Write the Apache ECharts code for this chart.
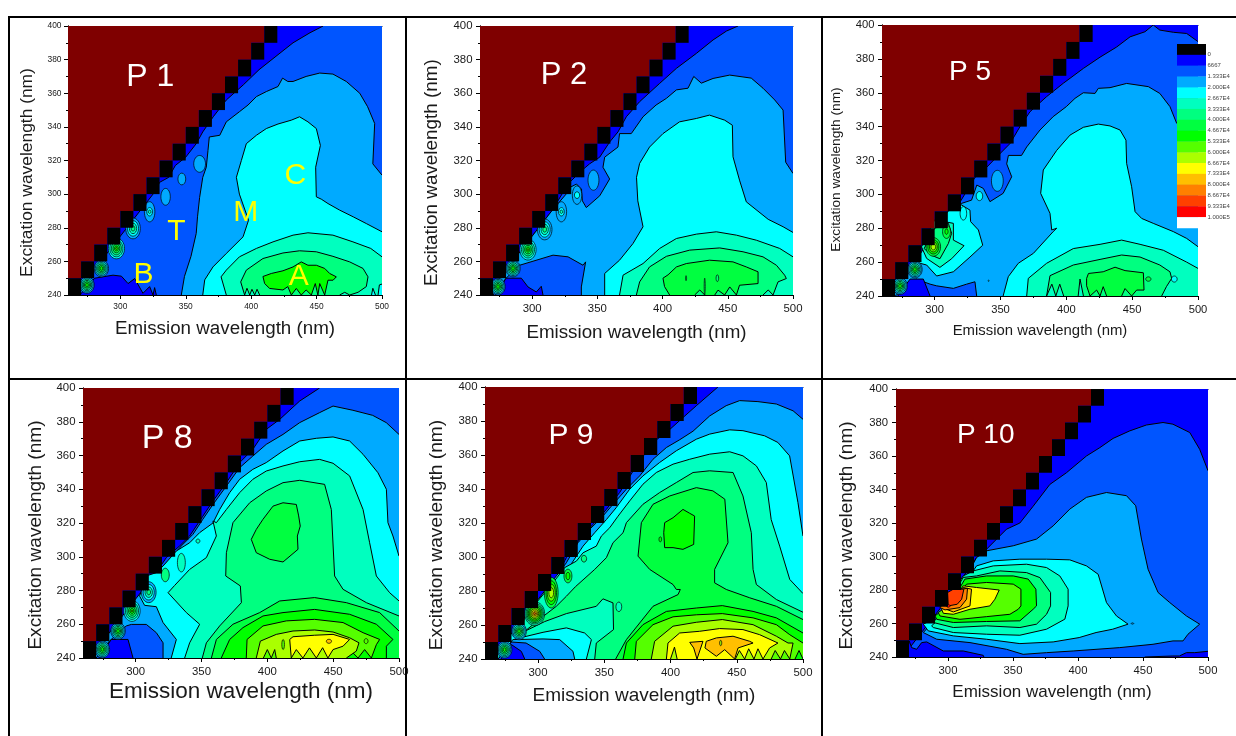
<!DOCTYPE html>
<html><head><meta charset="utf-8">
<script src="https://cdn.jsdelivr.net/npm/echarts@6/dist/echarts.min.js"></script>
<style>html,body{margin:0;padding:0;background:#fff}#c{width:1236px;height:736px}</style></head>
<body><div id="c"></div>
<script>
// colour scale (level index -> colour) and its legend labels
const LEVEL_COLORS=['#000000','#0000ff','#0055ff','#00aaff','#00ffff','#00ffbf','#00ff80','#00ff40','#00ff00','#55ff00','#aaff00','#ffff00','#ffbf00','#ff8000','#ff4000','#ff0000','#ffffff'];
const LEVEL_LABELS=['0','6667','1.333E4','2.000E4','2.667E4','3.333E4','4.000E4','4.667E4','5.333E4','6.000E4','6.667E4','7.333E4','8.000E4','8.667E4','9.333E4','1.000E5'];
const SCATTER_EX=[240,250,260,270,280,290,300,310,320,330,340,350,360,370,380,390];
const X_MAJOR=[300,350,400,450,500], X_MINOR=[275,325,375,425,475];
const Y_MAJOR=[240,260,280,300,320,340,360,380,400], Y_MINOR=[250,270,290,310,330,350,370,390];
// Contour regions [level,[[emission,excitation],...]] painted in order
const R6=[[3,5.5,5],[4,4.6,4.2],[5,3.7,3.5],[6,2.8,2.7],[7,1.9,1.9],[8,1,1.1]];
const R5=[[4,6.2,6.2],[5,5,5],[6,3.8,3.8],[7,2.6,2.6],[8,1.5,1.5],[9,.6,.6]];
const R4=[[3,5.6,6.2],[4,4.2,4.6],[5,2.8,3.1],[6,1.4,1.6]];
const R9=[[5,7.5,7],[6,6.6,6.1],[7,5.7,5.3],[8,4.8,4.5],[9,3.9,3.7],[10,3,2.9],[11,2.2,2.1],[12,1.4,1.3],[13,.7,.6]];

const P1_BANDS=[
[2,[[455,400],[445,396],[432,390],[419,382],[406,374],[394,365],[381,356],[371,346],[363,337],[358,330],[350,322],[342,317],[337,310],[330,307],[327,302],[315,290],[290,265],[270,245],[265,240],[500,240],[500,400]]],
[3,[[500,311.3],[493,318],[494.4,342],[489,352],[483,360],[472.7,367],[462.5,371.4],[452.4,372],[442,370],[432,367],[428,367],[424,369],[420.5,364],[411.6,361],[404,358],[397.6,353],[391,349],[381,343],[376,335],[368,334],[367,326],[365.7,316],[363,310],[360.6,298],[359,286.5],[358,276.6],[354,263],[349,251],[346.6,240],[500,240]]],
[4,[[500,277.6],[488,282.5],[478,286.5],[467.6,290.5],[458.7,294.4],[453.6,297],[449.8,298.4],[449.3,316],[452.9,329],[449.8,339],[443.4,343],[437,346],[430.7,344],[420.5,341.7],[411.6,339],[404,335],[396.3,330],[392.5,320],[388.7,310],[391,300],[398,284.5],[393.8,274.6],[381,264.7],[370.8,256.7],[364.5,249],[363,240],[500,240]]],
[5,[[500,262.7],[491.4,267.7],[477.8,271.6],[462.5,275.6],[443.4,277],[432,275.6],[416.7,271.6],[404,267.7],[391,262.7],[381,254.8],[377,250.8],[381,240],[500,240]]],
[4,[[492,240],[493,244],[495,240]]],[4,[[497,240],[498,246],[500,246.5],[500,240]]],
[6,[[395,240],[392,247.8],[396.3,254.8],[409,261.7],[424.3,265],[437,266.3],[449.8,265.7],[462.5,263],[475.3,259.7],[485.5,255.8],[489.3,250.8],[488,245],[481.7,241.6],[475.3,240],[471.5,241.6],[467.6,240],[406.5,240],[404.5,243.4],[402.7,240],[400.6,243.4],[398.9,240],[396.8,244]]],
[8,[[409,251],[415.4,252.8],[424.3,254.4],[432,256.7],[438.3,259.7],[443.4,257.7],[449.8,257.7],[456.2,255.8],[460,252.8],[465.1,250.8],[462.6,248.8],[458.7,248.8],[456.2,240],[452.4,246.8],[451,240],[449,246.8],[446,240],[442,243],[438.3,240],[434.5,243.9],[430.7,240],[428,245],[424.3,243],[414.1,243.9],[410.3,246.8]]],
[1,[[269,240],[280.4,250],[294.4,251.8],[300.8,251.2],[305.9,246.8],[311,249.8],[317.3,241],[322.4,245],[325,240],[326.2,244.4],[327.5,240]]]];
const P1_BUBBLES=[[274.5,246,R6],[285.5,255.8,R6],[297,267.7,R5],[309.7,279.6,R4],[322.4,289.5,[[3,4,6],[4,2.2,2.5],[5,1,1]]],[334.6,298.4,[[3,3.6,5]]],[347,309,[[3,3,3.5]]],[360.6,318,[[3,4.5,5]]]];
const P1_TEXT=[['P 1',322.9,370.6,32,'#ffffff'],['C',433.8,311.9,30,'#ffff00'],['M',395.8,290,30,'#ffff00'],['T',342.8,278.6,30,'#ffff00'],['B',317.8,252.8,30,'#ffff00'],['A',436.3,251.8,30,'#ffff00']];

const P2_BANDS=[
[2,[[457.9,400],[449,397],[438.7,391.7],[425.9,383.7],[410.6,374.8],[397.8,365.9],[382.4,355],[372.2,346],[365.8,337],[359.4,331],[351.8,322],[344,318],[336.4,313],[328.8,307],[326,304],[315,290],[290,265],[270,245],[265,240],[500,240],[500,400]]],
[3,[[500,312.3],[494.4,319],[492.4,350],[486,356],[477,363],[468,369],[451.5,370.8],[438.7,368.8],[429.7,366],[423.9,370],[419.5,363],[410.6,362],[403,357],[395,353],[385,346],[376,336],[367,336],[365.8,328],[355.6,322],[354.3,316],[359.4,309],[351.8,299],[341.5,292],[338.5,296],[337.8,303],[334,306],[329,304],[326,300],[315,290],[290,265],[270,245],[265,240],[500,240]]],
[2,[[280,250],[290.4,257.7],[304.5,261],[316,263.7],[327.5,262.7],[339,257.7],[341,259.7],[337.7,244.8],[337.7,240],[270,240]]],
[1,[[272,240],[280,250],[291.7,250],[296.8,244.8],[303.2,241.8],[307,245.2],[308.3,240]]],
[4,[[500,277.2],[492.4,280.6],[481,285],[464.2,295.4],[459,308.3],[454,322.2],[453.5,341],[447.6,344],[436,347],[425.9,345],[413,343],[400.3,336],[390,328],[382.4,318.3],[380,310],[381,296],[385,280.6],[377.3,270.6],[367,260.7],[355.6,252.8],[355.6,240],[500,240]]],
[5,[[500,262.7],[489.8,267.7],[471.9,272.6],[456.6,275.6],[441.2,277.6],[425.9,276.2],[410.6,273.6],[397.8,267.7],[385,258.7],[369.7,251.8],[367,240],[500,240]]],
[6,[[379.9,240],[382.4,247.8],[390,256.7],[402.9,263],[420.8,266.7],[443.8,268],[461.7,265.7],[477,262.7],[487.3,257.7],[493.6,251.8],[494.9,249.8],[488.5,247.8],[484.7,240],[481,243],[477,240]]],
[7,[[400.3,250],[404.2,252],[410.6,256.7],[418.2,258.7],[436,260.7],[454,259.7],[464.2,256.7],[473.2,253.8],[473.2,246.8],[459,245.8],[456.6,240],[451.5,244.8],[447.6,240],[442.5,242.9],[440,240],[432.3,240],[428.5,243],[424.6,240],[405.4,240],[401.5,245]]]];
const P2_BUBBLES=[[273.8,245,R6],[285.3,255.8,R6],[296.8,267,R5],[309.6,279,R4],[322.4,289.5,[[3,4,6],[4,2.2,2.5],[5,1,1]]],[334.4,299.4,[[3,3.6,5.5],[4,2,2]]],[347,308.3,[[3,4.2,6]]],[442,250,[[6,1,2]]],[418,250,[[6,.4,1.5]]],[432.3,245,[[6,.4,5]]]];
const P2_TEXT=[['P 2',324.4,371.6,31,'#ffffff']];

const P5_BANDS=[
[2,[[500,390.2],[491.4,395],[481.3,395.7],[471,397],[466,400],[459.7,396],[448.4,393],[438.2,387],[425.6,381],[413,374.4],[397.7,365.6],[385,357.7],[372.4,348.8],[364.8,340],[357.2,330],[347,322],[339.5,316],[330.6,310],[315,290],[290,265],[270,245],[265,240],[500,240]]],
[3,[[500,342],[483.8,342],[478.7,351.8],[471,359.6],[462.3,363.6],[445.8,365.5],[433.2,363],[424.3,362.6],[421.8,359.6],[412.9,360],[406.6,356.7],[400,351.8],[390,345.9],[380,338],[369.9,328],[366,323],[356,323],[354.7,318],[358.5,310.4],[352,300.6],[342,295.7],[337,303.5],[332,305.5],[328,296.6],[320.5,294.7],[315,290],[290,265],[270,245],[265,240],[500,240]]],
[2,[[286,250],[296.5,247],[301.5,246],[314.2,244.5],[324.3,247],[330.6,248.4],[331.9,240],[270,240]]],
[1,[[272,240],[281.3,250],[291.4,250],[296.5,240]]],
[4,[[500,269.1],[491.4,274],[481.3,278],[466,282.9],[457.2,285.8],[452.2,289.8],[449.6,304.5],[445.8,318.3],[445.3,332],[440.8,338],[433.2,340.4],[424.3,341.5],[412.9,339.6],[402.8,335],[392.7,326],[382.5,314.4],[380.5,300.6],[387.6,288.8],[388.9,279],[392.7,280],[390,278],[375,265.2],[363.5,259.3],[355.9,251.4],[352,240],[500,240]]],
[4,[[319.2,294.3],[326.8,290.7],[327.3,283.9],[333.2,279],[336.5,270],[326.8,263],[314.2,254.3],[301.5,251.8],[293.9,258.3],[288.9,259.3],[285,260],[310,290]]],
[5,[[314.2,282.9],[314.2,273],[322.3,269.7],[312.9,262],[304,256.9],[293.9,262.2],[290,269],[300,285]]],
[6,[[310.4,282.9],[312.9,277],[310.4,271],[304,262],[297.7,264],[292,268],[300,280]]],
[5,[[369.9,240],[371.1,250.4],[385,259.3],[405.3,268],[425.6,270.5],[442,273],[456,270.5],[473.7,267],[491.4,260],[500,256.3],[500,240]]],
[6,[[385,240],[387.6,252],[405.3,258.3],[425.6,261.6],[442,264.2],[456,263],[471,258.3],[478.7,254.3],[480,250.4],[476,245.5],[472.4,240],[413,240],[410.4,250],[409,240],[398,240],[395,247],[392,240],[389,247]]],
[7,[[415.4,250.4],[416.8,253.3],[428,254.3],[437,257],[444.6,255],[458.5,253.7],[459,243.5],[453.4,243.5],[449.6,240],[444.6,244.4],[442,240],[430.6,240],[428,245.5],[425.6,240],[423,243.5],[418,240],[415.4,246]]]];
const P5_BUBBLES=[[273.7,245.9,R6],[285,255.7,R6],[299,269,[[7,5.5,5.5],[8,4.2,4.2],[9,3,3],[10,1.8,1.8]]],[309,278,[[7,3,4],[8,1.2,1.6]]],[321.8,288.8,[[4,2.5,4]]],[334,299,[[4,2.5,2.7]]],[347.6,308,[[3,4.5,6.2]]],[462.3,250,[[7,2,1.3]]],[341,249,[[4,.4,.4]]],[482,250,[[4,2.2,1.8]]]];
const P5_TEXT=[['P 5',326.8,373,28,'#ffffff']];

const P8_BANDS=[
[2,[[439.7,400],[424.6,392.3],[409.4,381.4],[399.2,375.5],[389,363.7],[379,355.8],[368.9,343.9],[358.7,333],[351,324],[341,312.3],[333.4,306.4],[323.3,299.5],[315,290],[500,290],[500,400]]],
[3,[[500,372.5],[490.3,379.5],[480,383.8],[465,386.8],[449.9,389.3],[439.7,385.4],[424.6,379.5],[411.9,372.5],[399.2,366.6],[389,359.7],[379,352.8],[368.9,341.9],[358.7,331],[351,322.2],[343.5,313.3],[334.7,306.4],[325.8,298.5],[320.8,294.5],[315.7,290.6],[300,275],[290,265],[270,245],[265,240],[500,240]]],
[4,[[500,300.4],[495.4,312.3],[491.6,320.2],[490.4,340],[484,349.8],[472.7,360.7],[462.5,368.6],[449.9,371],[437.2,370.2],[424.6,368.6],[411.9,362.7],[399.2,355.8],[389,351.8],[379,345.9],[371.4,338],[363.8,328],[358.7,320],[348.6,314.3],[341,308.3],[330.9,303.4],[320.8,294.5],[315.7,290.6],[308,288.6],[303,276.7],[306.8,271.2],[315.7,270.4],[320.8,261],[330.9,251],[327,240],[500,240]]],
[2,[[292.9,259],[296.7,259.9],[308.1,259.9],[315.7,255],[320.8,249],[320.8,240],[270,240],[280,250]]],
[1,[[272,240],[281.5,251],[294.2,251],[298,240]]],
[5,[[500,273.8],[492.9,278.7],[482.8,288.6],[477.7,308.3],[472.7,328],[462.5,347.9],[449.9,355.4],[439.7,357.7],[424.6,356.3],[411.9,353.8],[399.2,350.8],[389,345.9],[379,338],[368.9,328],[361.3,320.2],[358.7,321.2],[361.3,312.3],[353.7,299.5],[341,292.5],[329.6,283],[324.6,278.7],[338.5,266.9],[348.6,260],[341,249],[337.2,240],[500,240]]],
[6,[[500,264.9],[475.2,272.8],[457.5,280.7],[451.1,288.6],[448.6,328],[443.5,342.9],[424.6,345.3],[411.9,343.9],[399.2,339],[386.6,332],[373.9,320.2],[368.9,302.4],[368.4,288.6],[379.5,282.7],[380.3,272.8],[363.8,259],[353.7,249],[350.6,240],[500,240]]],
[7,[[422,331],[411.9,332],[404.3,330],[396.7,322.2],[391.6,316.2],[387.8,310.3],[391.6,302.4],[401.8,298.5],[411.9,296.9],[423.3,304.4],[422.8,312.3],[425,318.2],[423.8,324.2]]],
[7,[[357.5,240],[361.3,251],[373.9,260],[394.2,266.9],[409.4,273.8],[435.9,275.8],[460,272.8],[485.3,266.9],[500,256],[500,240]]],
[8,[[365,240],[371.4,251],[381.5,258],[396.7,264.9],[411.9,266.9],[435.9,268.8],[462.5,265.9],[482.8,260],[495.4,251],[490.4,247],[490.4,240]]],
[9,[[384,240],[384.6,251],[396.7,259],[414.4,262],[435.9,262.9],[457.5,261],[472.7,255],[485.3,251],[482.8,247.9],[479,240],[473.9,245],[468.9,240],[462.5,245],[458.7,240]]],
[10,[[391.6,240],[394.7,250],[406.8,254],[419.5,256],[436,256.6],[449.9,255.4],[462.5,252],[469.6,249],[467.6,244.1],[460,240],[406.8,240],[405.6,245],[403,240],[400,245],[397,240]]],
[11,[[417,251],[419.5,252.6],[436,253.5],[449.9,254],[462.5,251],[457.5,247],[449.9,245],[446,240],[442,246.1],[437.2,240],[432,246],[427,240],[422,245],[418.2,240]]]];
const P8_BUBBLES=[[274.7,245.1,R6],[286.6,256,R6],[297.2,267.9,R5],[309.9,279,R4],[322.5,289.2,[[6,3,4]]],[334.7,296.5,[[5,3,5.5]]],[347.3,309.3,[[5,1.5,1.2]]],[446.8,249.9,[[12,2,1.2]]],[412,248,[[9,1,3]]],[475,250,[[9,1.5,1.5]]]];
const P8_TEXT=[['P 8',324,370.6,34,'#ffffff']];

const P9_BANDS=[
[2,[[435.8,400],[419.5,389],[409.4,382],[399.4,375],[386.8,367.4],[374.2,353.6],[361.6,337.9],[351.6,328],[341.5,319.2],[331.4,310.4],[321.4,299.6],[315,290],[500,290],[500,400]]],
[3,[[500,381],[492.5,386],[479.9,390],[466,391.4],[452.2,392],[442,389],[429.6,383],[417,374],[407,369],[396.9,364.4],[386.8,357.5],[376.7,347.7],[366.7,339.9],[356.6,331],[347.8,323],[339,316.3],[330.2,308.4],[321.4,296.6],[315,290],[500,290]]],
[4,[[500,312.3],[496.2,332],[489.9,359.5],[481,367.4],[471,371.3],[454.7,374.3],[444.7,374.8],[429.6,372.3],[419.5,369.3],[404.4,362.5],[391.8,355.6],[379.2,347.7],[369.2,339.9],[359,329],[351.6,322],[342.8,314.3],[334,306.4],[324,294.6],[315,290],[290,265],[270,245],[265,240],[500,240]]],
[5,[[500,278.5],[490,286.8],[482.4,306.4],[476,322],[472.3,343.8],[464.8,353.6],[454.7,359.5],[444.7,361.9],[429.6,360.5],[414.5,357.5],[401.9,354.6],[389.3,349.7],[379.2,342.8],[369.2,333],[360.4,324],[354.1,317.2],[347.8,312.3],[344,306.4],[334,302.5],[329,297.6],[320,293.7],[311.3,284.8],[290,265],[286.2,252.4],[303.8,255.7],[321.4,258.3],[335.2,255.3],[340.3,251.4],[336.5,240],[500,240]]],
[3,[[281,251.4],[303.8,251.8],[316.4,251.4],[326.4,244.5],[327.7,240],[270,240]]],
[2,[[280,250],[291,249.4],[301.3,244.5],[305,240],[270,240]]],
[1,[[272,240],[279.9,248.5],[287.4,244.5],[290,240]]],
[6,[[500,267.5],[479.9,275],[464.8,283.8],[462.3,292.7],[461,314.3],[454.7,335.9],[447.2,349.7],[429.6,350.7],[417,349.7],[404.4,343.8],[391.8,337.9],[379.2,331],[366.7,320.2],[364.2,314.3],[356.6,308.4],[351.6,299.6],[342.8,292.7],[328.2,282.5],[321.4,276.9],[313.8,271],[303.8,265],[290,256.3],[305,262],[321.4,266.7],[344,271],[349,275.4],[356.6,273],[357,257.3],[344,249.4],[342.8,240],[500,240]]],
[7,[[500,263.2],[479.9,271],[459.8,276],[442.1,280.9],[433.3,284.8],[433.3,292.7],[443.4,308.4],[441,334],[432,338.9],[419.5,340.8],[399.4,335.9],[386.8,331],[378,320.2],[375.5,300.5],[384.3,292.7],[401.9,283.8],[404.4,280.9],[407.4,280.9],[405.7,277.9],[386.8,271],[366.7,251.4],[358.6,240],[500,240]]],
[8,[[395.6,320.2],[401.9,323.1],[409.4,328],[414.5,325.7],[418.2,324.1],[417.5,307.4],[409.4,304.5],[401.9,305.5],[395.6,305.5],[394.9,314.3]]],
[8,[[364.2,240],[366.7,249.4],[379.2,260.2],[396.9,268],[419.5,270],[439.1,271.4],[462.3,268],[479.9,264.2],[500,255.3],[500,240]]],
[9,[[373,240],[374.2,250.4],[386.8,260.2],[401.9,264.8],[419.5,266],[439.1,266.7],[462.3,264.2],[479.9,260.2],[490,254.3],[500,249.4],[500,240],[497,245],[494,240]]],
[10,[[385.5,240],[388,250.4],[401.9,259.3],[419.5,261.6],[439.1,263.2],[462.3,260.2],[479.9,253.4],[488.7,249.4],[492.5,249.4],[490,240],[486,245],[483,240],[479,245],[476,240]]],
[11,[[396.9,240],[398.1,249.4],[406.9,255.3],[422,256.3],[437.1,257.9],[454.7,257.3],[467.3,254.3],[481.1,249.4],[474.8,246.5],[469.8,240],[466,246],[463,240],[459,246],[456,240],[452,245],[449,240],[405,240],[403,247],[400,240]]],
[12,[[427,250.4],[434.6,252.4],[447.2,253.4],[459.8,250.4],[462.3,249.4],[451,246.5],[448.4,240],[440.9,245.5],[434.6,241.6],[426,246.5]]],
[12,[[414.5,249.8],[424.5,250.4],[420,240],[417.5,246.5]]]];
const P9_BUBBLES=[[274.8,245.5,R6],[285.7,256.3,R6],[297.5,266.7,R9],[310,279,[[7,5.2,9],[8,4,7],[9,3,5],[10,1.8,3]]],[322.6,288.8,[[7,3,4],[8,1.5,2.2]]],[334.7,299,[[6,2,2]]],[361,270.7,[[5,2.2,2.8]]],[392.3,310.4,[[8,1,1.5]]],[437.9,249.4,[[10,.8,1.6]]]];
const P9_TEXT=[['P 9',324.9,372,30,'#ffffff']];

const P10_BANDS=[
[2,[[500,351.2],[493.6,364],[486,374],[473,379],[465.4,380],[452.6,378.5],[439.8,375],[427,370.5],[416.8,365],[406.5,360],[391.1,350],[378.3,343],[365.5,330],[355.3,320],[345,316.3],[337.4,310.4],[329.7,304.4],[322,299.4],[300,275],[280,255],[270,245],[265,240],[500,240]]],
[1,[[270.2,249.6],[272,245.6],[275.9,244.6],[279.7,248.6],[283.6,249],[296.4,243.6],[311.7,243.6],[327.1,241],[327.6,240],[268,240]]],
[1,[[451.3,240],[473,240.6],[478,240.6],[483.4,242.6],[489.8,242.6],[500,243.4],[500,240]]],
[3,[[493.6,259.6],[483.4,264.5],[470.6,272.5],[461.6,278.5],[453.9,292.4],[448.8,310.4],[444.4,330.3],[437.3,336.3],[421.9,338.2],[406.5,335.3],[393.7,328.3],[380.9,318.3],[368.1,310.4],[350.2,306.4],[329.7,303.4],[322,299.4],[305,275],[281,254.6],[291.3,250.6],[316.9,248.6],[345,244.6],[357.8,241.6],[375.8,242.6],[396.3,243.6],[432.1,245.6],[457.7,247.6],[473.1,249.6],[480.8,249.6],[484.6,253.6]]],
[4,[[438.5,259.6],[429.6,264.5],[421.9,272.5],[415.5,289.4],[406.5,294.4],[393.7,298],[375.8,298.4],[355.3,298.4],[334.8,297.4],[322,294.4],[305,275],[295,265],[281,259.6],[284.8,255.6],[304.1,252.6],[329.7,250.6],[355.3,248],[380.9,249],[400.9,251.6],[413.9,254.6],[426.7,256.6]]],
[5,[[392.4,270.5],[392.4,280.5],[386,288.4],[375.8,293.4],[360.4,295.4],[334.8,294.4],[319.4,291.4],[311.7,288.4],[300,275],[292,262],[287.4,258.6],[288.7,257.6],[304.1,254.6],[329.7,253.6],[355.3,253],[375.8,256.6],[389.9,262.6]]],
[6,[[378.9,270.5],[378.9,278.5],[370.7,287.4],[360.4,290.4],[339.9,291.4],[322,288.4],[311.7,287.5],[300,272],[288.7,260.6],[304.1,257.6],[329.7,258.6],[355.3,257.6],[368.1,259.6],[375.8,265.5]]],
[8,[[368.1,270.5],[367.6,280.5],[361.7,286.5],[350.2,288.4],[329.7,288.4],[313,286.5],[302,272],[290,264.5],[291.3,262.5],[304.1,260.6],[329.7,261.2],[355.3,261.6],[365.5,268.5]]],
[9,[[356.1,270.5],[356.1,280.5],[350.2,283.5],[329.7,284.5],[314.3,283.5],[302,272],[292.5,266.5],[293.8,264.5],[309.2,262.5],[329.7,264.1],[347.6,265.5],[354,268.5]]],
[11,[[339.4,280],[322,281.5],[311.7,282.5],[305,275],[295.1,268.5],[296.4,266.1],[304.1,265.5],[316.9,268.5],[332.2,270.5],[336.1,274.5]]],
[12,[[318.1,280.5],[316.9,270.5],[304.1,266.9],[295.1,269.5],[305,278],[311.7,281.5]]],
[13,[[315,281],[314.3,274.5],[309.2,269.5],[297.7,268.1],[293.8,269.5],[305,280]]],
[14,[[312.2,280.5],[310.5,274.5],[307.1,271.5],[300.2,270.5],[299.7,278.5],[304.1,280.5]]]];
const P10_BUBBLES=[[300.2,270.5,[[15,1.5,.8]]],[441.9,260,[[3,1,.4]]]];
const P10_TEXT=[['P 10',329,373.5,28,'#ffffff']];

// per panel: bands, bubbles, text, grid [l,t,w,h], tick font, x name font/gap, y name font/gap/shift, top line
const PANELS=[
 {b:P1_BANDS,u:P1_BUBBLES,t:P1_TEXT,g:[68,26,314,269],tf:8.4,yl:6.5,xf:18.8,xg:24,yf:17.4,yg:32,ys:24,top:1},
 {b:P2_BANDS,u:P2_BUBBLES,t:P2_TEXT,g:[480,26,313,269],tf:11.4,yl:7.5,xf:18.8,xg:28,yf:18.9,yg:39,ys:24,top:1},
 {b:P5_BANDS,u:P5_BUBBLES,t:P5_TEXT,g:[882,25,316,271],tf:11.2,yl:7.5,xf:14.9,xg:27,yf:13.7,yg:39,ys:18,top:1},
 {b:P8_BANDS,u:P8_BUBBLES,t:P8_TEXT,g:[83,388,316,270],tf:11.4,yl:7.5,xf:22.5,xg:22,yf:19.1,yg:38,ys:24,top:0},
 {b:P9_BANDS,u:P9_BUBBLES,t:P9_TEXT,g:[485,387,318,272],tf:11.4,yl:7.5,xf:19,xg:27,yf:19.2,yg:39,ys:24,top:1},
 {b:P10_BANDS,u:P10_BUBBLES,t:P10_TEXT,g:[896,389,312,268],tf:11.3,yl:8,xf:17,xg:26.5,yf:19,yg:39.5,ys:25,top:1}
];
const FONT='Liberation Sans', TXT='#1a1a1a';

function axisX(p,i,kind){
 const a={type:'value',gridIndex:i,min:260,max:500,position:kind==='top'?'top':'bottom',splitLine:{show:false},
  axisLine:{show:true,onZero:false,lineStyle:{color:'#000',width:1}},axisTick:{show:false},axisLabel:{show:false}};
 if(kind==='major'){
  a.axisTick={show:true,length:4,customValues:X_MAJOR,lineStyle:{color:'#000'}};
  a.axisLabel={show:true,customValues:X_MAJOR,margin:8,fontFamily:FONT,fontSize:p.tf,color:TXT,hideOverlap:false,showMinLabel:true,showMaxLabel:true};
  a.name='Emission wavelength (nm)';a.nameLocation='middle';a.nameGap=p.xg;a.nameMoveOverlap=false;
  a.nameTextStyle={fontFamily:FONT,fontSize:p.xf,color:TXT};
 }
 if(kind==='minor'){a.axisTick={show:true,length:2,customValues:X_MINOR,lineStyle:{color:'#000'}};}
 if(kind==='top'&&!p.top){a.axisLine.show=false;}
 return a;
}
function axisY(p,i,kind){
 const a={type:'value',gridIndex:i,min:240,max:400,position:'left',splitLine:{show:false},
  axisLine:{show:true,onZero:false,lineStyle:{color:'#000',width:1}},axisTick:{show:false},axisLabel:{show:false}};
 if(kind==='major'){
  a.axisTick={show:true,length:4,customValues:Y_MAJOR,lineStyle:{color:'#000'}};
  a.axisLabel={show:true,customValues:Y_MAJOR,margin:p.yl,fontFamily:FONT,fontSize:p.tf,color:TXT,hideOverlap:false,showMinLabel:true,showMaxLabel:true};
  a.name='Excitation wavelength (nm)';a.nameLocation='middle';a.nameRotate=90;a.nameGap=p.yg;a.nameMoveOverlap=false;
  a.nameTextStyle={fontFamily:FONT,fontSize:p.yf,color:TXT,padding:[0,p.ys,0,0]};
 } else {a.axisTick={show:true,length:2,customValues:Y_MINOR,lineStyle:{color:'#000'}};}
 return a;
}
function drawList(p){
 const list=[];
 list.push({k:'poly',c:1,pts:[[260,240],[500,240],[500,400],[260,400]]});
 p.b.forEach(b=>list.push({k:'poly',c:b[0],pts:b[1]}));
 p.u.forEach(u=>u[2].forEach(r=>list.push({k:'ell',c:r[0],x:u[0],y:u[1],rx:r[1],ry:r[2]})));
 const red=[[260,400]];
 SCATTER_EX.slice().reverse().forEach(e=>{red.push([e+20,e+10]);red.push([e+20,e]);});
 red.splice(1,0,[SCATTER_EX[15]+20,400]);
 red.push([260,SCATTER_EX[0]+10]);
 list.push({k:'fill',col:'#7f0000',pts:red});
 SCATTER_EX.forEach(e=>list.push({k:'fill',col:LEVEL_COLORS[0],pts:[[e+20,e],[e+30,e],[e+30,e+10],[e+20,e+10]]}));
 p.t.forEach(t=>list.push({k:'text',s:t[0],x:t[1],y:t[2],size:t[3],col:t[4]}));
 return list;
}
function onEdge(a,b){return (a[0]>=500&&b[0]>=500)||(a[0]<=260&&b[0]<=260)||(a[1]<=240&&b[1]<=240)||(a[1]>=400&&b[1]>=400);}
function makeRender(list){
 return function(params,api){
  const it=list[params.dataIndex], z=params.dataIndex;
  if(it.k==='text'){
   const c=api.coord([it.x,it.y]);
   return {type:'text',z2:z,style:{text:it.s,x:c[0],y:c[1]+1.5,fill:it.col,fontFamily:FONT,fontSize:it.size,align:'center',verticalAlign:'middle'}};
  }
  if(it.k==='ell'){
   const c=api.coord([it.x,it.y]), s=api.size([1,1]);
   return {type:'ellipse',z2:z,shape:{cx:c[0],cy:c[1],rx:it.rx*s[0],ry:it.ry*s[1]},style:{fill:LEVEL_COLORS[it.c],stroke:'#000',lineWidth:.7}};
  }
  const px=it.pts.map(q=>api.coord(q));
  if(it.k==='fill'){
   return {type:'polygon',z2:z,shape:{points:px},style:{fill:it.col}};
  }
  const kids=[{type:'polygon',z2:z,shape:{points:px},style:{fill:LEVEL_COLORS[it.c]}}];
  const n=it.pts.length; let run=[];
  for(let i=0;i<n;i++){
   const a=it.pts[i],b=it.pts[(i+1)%n];
   if(onEdge(a,b)){ if(run.length>1)kids.push({type:'polyline',z2:z,shape:{points:run},style:{fill:null,stroke:'#000',lineWidth:1}}); run=[]; }
   else { if(!run.length)run.push(px[i]); run.push(px[(i+1)%n]); }
  }
  if(run.length>1)kids.push({type:'polyline',z2:z,shape:{points:run},style:{fill:null,stroke:'#000',lineWidth:1}});
  return {type:'group',children:kids};
 };
}
const grid=[],xAxis=[],yAxis=[],series=[];
PANELS.forEach((p,i)=>{
 grid.push({left:p.g[0],top:p.g[1],width:p.g[2],height:p.g[3],containLabel:false});
 xAxis.push(axisX(p,i,'major'),axisX(p,i,'minor'),axisX(p,i,'top'));
 yAxis.push(axisY(p,i,'major'),axisY(p,i,'minor'));
 const list=drawList(p);
 series.push({type:'custom',coordinateSystem:'cartesian2d',xAxisIndex:3*i,yAxisIndex:2*i,silent:true,animation:false,clip:true,
  data:list.map((_,k)=>[260,240,k]),renderItem:makeRender(list),z:1});
});
// page rules and the colour legend over panel P 5
const LEGEND={x:1177,y:44,w:29,h:10.82,tx:1207.5};
const RULES=[[9,16,1227,2],[8,16,2,720],[405,16,2,720],[821,16,2,720],[8,378,1228,2]];
const graphic=[];
RULES.forEach(r=>graphic.push({type:'rect',shape:{x:r[0],y:r[1],width:r[2],height:r[3]},style:{fill:'#000'},z:50}));
LEVEL_COLORS.forEach((c,i)=>graphic.push({type:'rect',shape:{x:LEGEND.x,y:LEGEND.y+i*LEGEND.h,width:LEGEND.w,height:LEGEND.h+.3},style:{fill:c},z:50}));
LEVEL_LABELS.forEach((s,i)=>graphic.push({type:'text',x:LEGEND.tx,y:LEGEND.y+(i+1)*LEGEND.h,z:50,style:{text:s,fontFamily:FONT,fontSize:6,fill:'#444',align:'left',verticalAlign:'middle'}}));
const chart=echarts.init(document.getElementById('c'),null,{renderer:'canvas'});
chart.setOption({animation:false,backgroundColor:'#fff',grid,xAxis,yAxis,series,graphic});
</script></body></html>
